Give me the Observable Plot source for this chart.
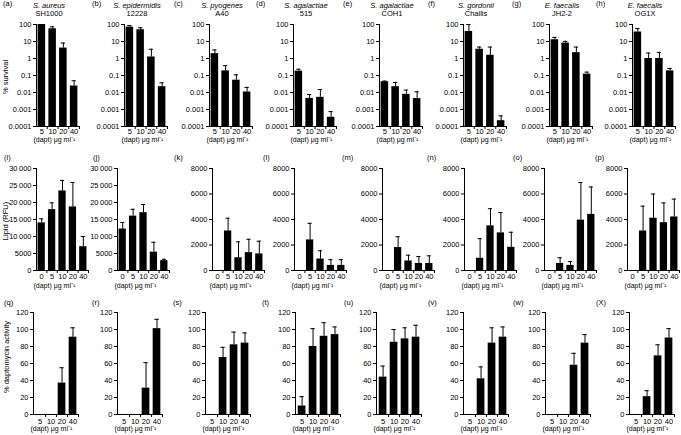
<!DOCTYPE html>
<html><head><meta charset="utf-8">
<script src="https://cdn.jsdelivr.net/npm/d3@7"></script>
<script src="https://cdn.jsdelivr.net/npm/@observablehq/plot@0.6"></script>
<style>
body{margin:0;background:#fff;}
#fig{position:relative;width:681px;height:435px;overflow:hidden;font-family:"Liberation Sans",Arial,sans-serif;color:#000;background:#fff;}
.lab{position:absolute;font-size:7.5px;line-height:1;white-space:nowrap;}
.panel{position:absolute;}
.title{position:absolute;font-size:7.5px;line-height:8px;text-align:center;transform:translateX(-50%);white-space:nowrap;}
.ylab{position:absolute;font-size:7.5px;transform:translate(-50%,-50%) rotate(-90deg);white-space:nowrap;}
</style></head><body><div id="fig"></div>
<script>
// ---- categories ----
const survivalDoses = ["5", "10", "20", "40"];
const lipidDoses = ["0", "5", "10", "20", "40"];
const activityDoses = ["5", "10", "20", "40"];
const xAxisLabel = "(dapt) μg ml⁻¹";

// ---- row 1: % survival (log) ----
const survivalLetters = ["(a)", "(b)", "(c)", "(d)", "(e)", "(f)", "(g)", "(h)"];
const survivalSpecies = ["S. aureus", "S. epidermidis", "S. pyogenes", "S. agalactiae", "S. agalactiae", "S. gordonii", "E. faecalis", "E. faecalis"];
const survivalStrains = ["SH1000", "12228", "A40", "515", "COH1", "Challis", "JH2-2", "OG1X"];
const survivalMean = [
  [100, 56, 4.1, 0.024],
  [70, 49, 1.23, 0.022],
  [1.93, 0.187, 0.053, 0.0107],
  [0.18, 0.0045, 0.0052, 0.00035],
  [0.043, 0.022, 0.0078, 0.0044],
  [39, 3.5, 1.55, 0.00022],
  [12.7, 8.1, 2.2, 0.12],
  [36, 1.0, 1.0, 0.187]
];
const survivalErrTop = [
  [100, 73, 8.1, 0.049],
  [87, 64, 3.5, 0.037],
  [3.2, 0.38, 0.11, 0.02],
  [0.235, 0.0075, 0.015, 0.00075],
  [0.047, 0.039, 0.0138, 0.011],
  [100, 4.7, 4.7, 0.00042],
  [17.4, 10.2, 4.7, 0.158],
  [58, 2.1, 2.3, 0.257]
];
const survivalTicks = [0.0001, 0.001, 0.01, 0.1, 1, 10, 100];
const survivalTickLabels = ["0.0001", "0.001", "0.01", "0.1", "1", "10", "100"];

// ---- row 2: Lipid (RFU) ----
const lipidLetters = ["(i)", "(j)", "(k)", "(l)", "(m)", "(n)", "(o)", "(p)"];
const lipidMean = [
  [14000, 17900, 23400, 18700, 7000],
  [12200, 16000, 17000, 5400, 2900],
  [0, 3100, 1000, 1400, 1300],
  [0, 2400, 900, 400, 400],
  [0, 1800, 750, 550, 550],
  [0, 960, 3500, 2950, 1820],
  [0, 550, 400, 3950, 4400],
  [0, 3100, 4100, 3750, 4200]
];
const lipidErrTop = [
  [15200, 19900, 26500, 25900, 10000],
  [14100, 18000, 19400, 8300, 3300],
  [0, 4100, 2250, 2450, 2300],
  [0, 3700, 1550, 850, 850],
  [0, 2650, 1200, 1100, 1150],
  [0, 2500, 4850, 4550, 3000],
  [0, 1000, 700, 6900, 6550],
  [0, 5050, 6000, 5300, 5600]
];
const lipidMax = [30000, 30000, 8000, 8000, 8000, 8000, 8000, 8000];
const lipidTicksLarge = [0, 5000, 10000, 15000, 20000, 25000, 30000];
const lipidTickLabelsLarge = ["0", "5000", "10\u2009000", "15\u2009000", "20\u2009000", "25\u2009000", "30\u2009000"];
const lipidTicksSmall = [0, 2000, 4000, 6000, 8000];
const lipidTickLabelsSmall = ["0", "2000", "4000", "6000", "8000"];

// ---- row 3: % daptomycin activity ----
const activityLetters = ["(q)", "(r)", "(s)", "(t)", "(u)", "(v)", "(w)", "(X)"];
const activityMean = [
  [0, 0, 37, 91],
  [0, 0, 31, 101],
  [0, 67, 82, 84],
  [10, 80, 92, 94],
  [44, 85, 89, 91],
  [0, 42, 84, 91],
  [0, 0, 58, 84],
  [0, 21, 69, 90]
];
const activityErrTop = [
  [0, 0, 55, 102],
  [0, 0, 61, 112],
  [0, 79, 97, 96],
  [21, 101, 108, 103],
  [57, 100, 102, 105],
  [0, 56, 102, 103],
  [0, 0, 72, 94],
  [0, 28, 82, 101]
];
const activityTicks = [0, 20, 40, 60, 80, 100, 120];
const activityTickLabels = ["0", "20", "40", "60", "80", "100", "120"];

const yTitles = ["% survival", "Lipid (RFU)", "% daptomycin activity"];

// ---- layout (pixels) ----
const fig = document.getElementById("fig");
const ML = 42, MR = 4, MT = 6, MB = 24, IH = 102;
const FONT = "'Liberation Sans', Arial, sans-serif";

function addDiv(cls, html, x, y) {
  const d = document.createElement("div");
  d.className = cls; d.innerHTML = html;
  d.style.left = x + "px"; d.style.top = y + "px";
  fig.appendChild(d);
  return d;
}

function panel({means, errs, doses, yType, yDomain, yTicks, yLabels, frameW, axisX, top, tickPad, xLabelDy, bandPad = 0.5}) {
  const n = doses.length;
  const data = doses.map((dose, i) => ({i, dose, mean: means[i], err: errs[i]}));
  const base = yDomain[0];
  const bars = data.filter(d => d.mean > base);
  const eb = data.filter(d => d.err > d.mean);
  const svg = Plot.plot({
    width: ML + frameW + MR, height: MT + IH + MB,
    marginLeft: ML, marginRight: MR, marginTop: MT, marginBottom: MB,
    style: {fontSize: "7.5px", fontFamily: FONT, color: "black", background: "none", overflow: "visible"},
    x: {type: "linear", domain: [-bandPad, n - 0.5], label: null},
    y: {type: yType, domain: yDomain, label: null},
    marks: [
      Plot.rectY(bars, {x1: d => d.i - 0.35, x2: d => d.i + 0.35, y1: base, y2: "mean", fill: "black"}),
      Plot.ruleX(eb, {x: "i", y1: "mean", y2: "err", stroke: "black", strokeWidth: 1}),
      Plot.ruleY(eb, {y: "err", x1: d => d.i - 0.2, x2: d => d.i + 0.2, stroke: "black", strokeWidth: 1}),
      Plot.ruleX([-bandPad], {stroke: "black"}),
      Plot.ruleY([base], {stroke: "black"}),
      Plot.axisY({ticks: yTicks, tickFormat: v => yLabels[yTicks.indexOf(v)], tickSize: 3, tickPadding: 2, label: null}),
      Plot.axisX({ticks: d3.range(n), tickFormat: i => doses[i], tickSize: 0, tickPadding: tickPad, label: null}),
      Plot.axisX({ticks: d3.range(n).map(i => i + 0.5), tickFormat: () => "", tickSize: 3, label: null}),
      Plot.text([xAxisLabel], {frameAnchor: "bottom-left", textAnchor: "start", dx: -3, dy: xLabelDy, fontSize: 7})
    ]
  });
  svg.classList.add("panel");
  svg.style.position = "absolute";
  svg.style.left = (axisX - ML) + "px";
  svg.style.top = (top - MT) + "px";
  fig.appendChild(svg);
}

// Row 1
const row1Axis = [36, 124, 209, 293, 379, 463, 549, 632];
const row1LetterX = [3, 92, 174, 256, 343, 428, 512, 596];
survivalMean.forEach((m, k) => {
  panel({means: m, errs: survivalErrTop[k], doses: survivalDoses, yType: "log", yDomain: [0.0001, 100],
    yTicks: survivalTicks, yLabels: survivalTickLabels, frameW: 43, axisX: row1Axis[k], top: 24, tickPad: 2, xLabelDy: 15});
  addDiv("lab", survivalLetters[k], row1LetterX[k], 0);
  addDiv("title", `<i>${survivalSpecies[k]}</i><br>${survivalStrains[k]}`, row1Axis[k] + 13, 2);
});

// Row 2
const row2Axis = [36, 117, 212, 294, 382, 464, 544, 627];
const row2LetterX = [4, 93, 174, 263, 342, 427, 513, 595];
lipidMean.forEach((m, k) => {
  const large = lipidMax[k] > 10000;
  panel({means: m, errs: lipidErrTop[k], doses: lipidDoses, yType: "linear", yDomain: [0, lipidMax[k]],
    yTicks: large ? lipidTicksLarge : lipidTicksSmall, yLabels: large ? lipidTickLabelsLarge : lipidTickLabelsSmall,
    frameW: 52, axisX: row2Axis[k], top: 168, tickPad: 3, xLabelDy: 17});
  addDiv("lab", lipidLetters[k], row2LetterX[k], 154);
});

// Row 3
const row3Axis = [33, 117, 205, 295, 376, 463, 545, 629];
const row3LetterX = [4, 92, 173, 262, 344, 428, 513, 596];
activityMean.forEach((m, k) => {
  panel({means: m, errs: activityErrTop[k], doses: activityDoses, yType: "linear", yDomain: [0, 120],
    yTicks: activityTicks, yLabels: activityTickLabels, frameW: 45, axisX: row3Axis[k], top: 312, tickPad: 4, xLabelDy: 16, bandPad: 0.6});
  addDiv("lab", activityLetters[k], row3LetterX[k], 299);
});

addDiv("ylab", yTitles[0], 5, 77);
addDiv("ylab", yTitles[1], 5, 221);
addDiv("ylab", yTitles[2], 6, 357);
</script>
</body></html>
